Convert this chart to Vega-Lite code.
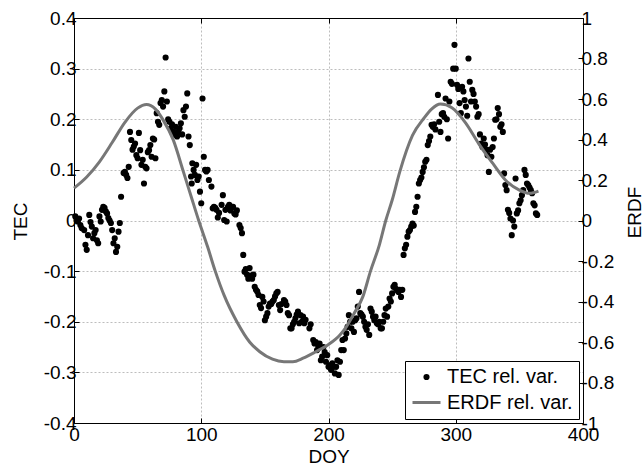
{
  "$schema": "https://vega.github.io/schema/vega-lite/v6.json",
  "width": 509,
  "height": 405,
  "autosize": "none",
  "padding": {"left": 74, "top": 18, "right": 61, "bottom": 45},
  "background": "white",
  "config": {
    "view": {"stroke": "black", "strokeWidth": 1},
    "font": "Liberation Sans",
    "axis": {
      "labelFont": "Liberation Sans", "labelFontSize": 19, "labelColor": "black",
      "titleFont": "Liberation Sans", "titleFontSize": 19, "titleFontWeight": "normal", "titleColor": "black",
      "domainColor": "black", "tickColor": "black", "tickSize": -5, "labelPadding": 3,
      "gridColor": "#bdbdbd", "gridDash": [2, 2], "gridWidth": 1,
      "labelOverlap": false, "labelFlush": false
    },
    "legend": {
      "orient": "bottom-right", "offset": 4, "strokeColor": "black", "fillColor": "white", "padding": 6,
      "labelFont": "Liberation Sans", "labelFontSize": 20, "labelColor": "black",
      "symbolStrokeWidth": 3, "symbolOpacity": 1, "labelOffset": 5, "rowPadding": 0
    }
  },
  "datasets": {
    "tec": [
      {"d":1,"t":0.008},{"d":2,"t":0.0},{"d":3,"t":-0.002},{"d":4,"t":0.004},{"d":5,"t":-0.009},{"d":6,"t":-0.015},{"d":8,"t":-0.019},{"d":9,"t":-0.048},{"d":10,"t":-0.058},{"d":11,"t":-0.029},{"d":12,"t":0.011},{"d":13,"t":-0.003},{"d":14,"t":-0.012},{"d":15,"t":-0.035},{"d":16,"t":-0.025},{"d":17,"t":-0.019},{"d":18,"t":-0.039},{"d":19,"t":-0.045},{"d":20,"t":0.008},{"d":21,"t":-0.002},{"d":22,"t":0.021},{"d":23,"t":0.027},{"d":24,"t":0.025},{"d":25,"t":0.018},{"d":26,"t":0.014},{"d":27,"t":0.005},{"d":28,"t":0.0},{"d":29,"t":-0.005},{"d":30,"t":-0.019},{"d":31,"t":-0.045},{"d":32,"t":-0.035},{"d":33,"t":-0.062},{"d":34,"t":-0.052},{"d":35,"t":-0.022},{"d":36,"t":-0.005},{"d":37,"t":0.047},{"d":39,"t":0.094},{"d":40,"t":0.096},{"d":41,"t":0.09},
      {"d":42,"t":0.084},{"d":43,"t":0.106},{"d":44,"t":0.175},{"d":45,"t":0.159},{"d":46,"t":0.14},{"d":47,"t":0.146},{"d":48,"t":0.152},{"d":49,"t":0.129},{"d":50,"t":0.123},{"d":51,"t":0.173},{"d":52,"t":0.139},{"d":53,"t":0.11},{"d":54,"t":0.12},{"d":55,"t":0.073},{"d":56,"t":0.106},{"d":57,"t":0.103},{"d":58,"t":0.135},{"d":59,"t":0.139},{"d":60,"t":0.149},{"d":61,"t":0.126},{"d":62,"t":0.162},{"d":63,"t":0.16},{"d":64,"t":0.123},{"d":65,"t":0.212},{"d":66,"t":0.195},{"d":67,"t":0.189},{"d":68,"t":0.232},{"d":69,"t":0.238},{"d":70,"t":0.225},{"d":71,"t":0.255},{"d":72,"t":0.322},{"d":73,"t":0.235},{"d":74,"t":0.2},{"d":75,"t":0.195},{"d":76,"t":0.182},{"d":77,"t":0.19},{"d":78,"t":0.175},{"d":79,"t":0.17},{"d":80,"t":0.185},{"d":81,"t":0.166},{"d":82,"t":0.175},{"d":83,"t":0.182},{"d":84,"t":0.192},{"d":85,"t":0.17},{"d":86,"t":0.218},{"d":87,"t":0.205},{"d":88,"t":0.225},{"d":89,"t":0.251},{"d":90,"t":0.166},{"d":91,"t":0.149},{"d":92,"t":0.087},{"d":92.5,"t":0.073},{"d":93,"t":0.113},{"d":94,"t":0.1},{"d":95,"t":0.09},{"d":96,"t":0.11},{"d":97,"t":0.08},{"d":98,"t":0.087},{"d":99,"t":0.057},{"d":100,"t":0.034},{"d":101,"t":0.241},
      {"d":102,"t":0.126},{"d":103,"t":0.1},{"d":104,"t":0.097},{"d":105,"t":0.1},{"d":106,"t":0.08},{"d":108,"t":0.067},{"d":109,"t":0.024},{"d":110,"t":0.027},{"d":111,"t":0.025},{"d":112,"t":0.021},{"d":113,"t":0.006},{"d":114,"t":0.015},{"d":116,"t":0.031},{"d":117,"t":0.05},{"d":118,"t":0.001},{"d":119,"t":0.021},{"d":120,"t":-0.002},{"d":121,"t":0.027},{"d":122,"t":0.031},{"d":123,"t":0.02},{"d":124,"t":0.027},{"d":125,"t":0.027},{"d":126,"t":0.014},{"d":127,"t":0.012},{"d":128,"t":0.02},{"d":130,"t":-0.009},{"d":131,"t":-0.015},{"d":132,"t":-0.025},{"d":133,"t":-0.068},{"d":134,"t":-0.101},{"d":135,"t":-0.096},{"d":136,"t":-0.107},{"d":137,"t":-0.115},{"d":138,"t":-0.094},{"d":139,"t":-0.109},{"d":140,"t":-0.115},{"d":141,"t":-0.107},{"d":142,"t":-0.131},
      {"d":143,"t":-0.137},{"d":144,"t":-0.14},{"d":145,"t":-0.147},{"d":146,"t":-0.167},{"d":147,"t":-0.173},{"d":148,"t":-0.151},{"d":149,"t":-0.16},{"d":150,"t":-0.197},{"d":151,"t":-0.19},{"d":152,"t":-0.183},{"d":153,"t":-0.17},{"d":154,"t":-0.164},{"d":155,"t":-0.165},{"d":156,"t":-0.16},{"d":157,"t":-0.157},{"d":158,"t":-0.15},{"d":159,"t":-0.144},{"d":160,"t":-0.141},{"d":161,"t":-0.167},{"d":162,"t":-0.177},{"d":163,"t":-0.165},{"d":165,"t":-0.157},{"d":166,"t":-0.16},{"d":167,"t":-0.167},{"d":168,"t":-0.183},{"d":169,"t":-0.187},{"d":170,"t":-0.213},{"d":171,"t":-0.213},{"d":172,"t":-0.205},{"d":173,"t":-0.2},{"d":174,"t":-0.193},{"d":175,"t":-0.186},{"d":176,"t":-0.18},{"d":177,"t":-0.203},{"d":178,"t":-0.187},{"d":179,"t":-0.2},{"d":180,"t":-0.19},{"d":181,"t":-0.203},{"d":182,"t":-0.196},{"d":185,"t":-0.213},{"d":186,"t":-0.205},{"d":188,"t":-0.236},{"d":189,"t":-0.243},{"d":190,"t":-0.24},{"d":191,"t":-0.256},{"d":192,"t":-0.248},{"d":193,"t":-0.243},{"d":194,"t":-0.276},{"d":195,"t":-0.269},{"d":196,"t":-0.25},{"d":197,"t":-0.26},{"d":198,"t":-0.279},{"d":199,"t":-0.266},{"d":200,"t":-0.289},{"d":201,"t":-0.286},{"d":202,"t":-0.295},{"d":203,"t":-0.282},{"d":204,"t":-0.289},{"d":205,"t":-0.302},{"d":206,"t":-0.289},{"d":207,"t":-0.276},{"d":208,"t":-0.305},{"d":209,"t":-0.279},
      {"d":210,"t":-0.256},{"d":211,"t":-0.236},{"d":212,"t":-0.256},{"d":213,"t":-0.233},{"d":214,"t":-0.223},{"d":215,"t":-0.21},{"d":216,"t":-0.187},{"d":217,"t":-0.2},{"d":218,"t":-0.213},{"d":219,"t":-0.2},{"d":220,"t":-0.22},{"d":221,"t":-0.197},{"d":222,"t":-0.193},{"d":223,"t":-0.17},{"d":224,"t":-0.141},{"d":225,"t":-0.183},{"d":226,"t":-0.186},{"d":227,"t":-0.19},{"d":228,"t":-0.2},{"d":229,"t":-0.21},{"d":230,"t":-0.216},{"d":231,"t":-0.205},{"d":232,"t":-0.226},{"d":233,"t":-0.174},{"d":234,"t":-0.18},{"d":235,"t":-0.19},{"d":236,"t":-0.197},{"d":237,"t":-0.19},{"d":238,"t":-0.203},{"d":239,"t":-0.205},{"d":240,"t":-0.2},{"d":241,"t":-0.213},{"d":242,"t":-0.213},{"d":243,"t":-0.2},{"d":244,"t":-0.187},{"d":245,"t":-0.174},{"d":246,"t":-0.19},{"d":247,"t":-0.17},{"d":248,"t":-0.154},{"d":249,"t":-0.16},{"d":250,"t":-0.144},{"d":251,"t":-0.131},{"d":252,"t":-0.127},{"d":253,"t":-0.135},{"d":254,"t":-0.138},{"d":255,"t":-0.141},{"d":256,"t":-0.137},{"d":257,"t":-0.151},{"d":258,"t":-0.137},
      {"d":259,"t":-0.068},{"d":260,"t":-0.055},{"d":261,"t":-0.048},{"d":262,"t":-0.032},{"d":263,"t":-0.022},{"d":264,"t":-0.019},{"d":265,"t":-0.012},{"d":266,"t":-0.006},{"d":267,"t":-0.01},{"d":268,"t":0.017},{"d":269,"t":0.027},{"d":270,"t":0.047},{"d":271,"t":0.073},{"d":272,"t":0.08},{"d":273,"t":0.085},{"d":274,"t":0.096},{"d":275,"t":0.105},{"d":276,"t":0.116},{"d":277,"t":0.12},{"d":278,"t":0.149},{"d":279,"t":0.157},{"d":280,"t":0.166},{"d":281,"t":0.189},{"d":282,"t":0.185},{"d":283,"t":0.19},{"d":284,"t":0.18},{"d":286,"t":0.248},{"d":287,"t":0.195},{"d":288,"t":0.175},{"d":289,"t":0.21},{"d":290,"t":0.212},{"d":291,"t":0.205},{"d":292,"t":0.241},{"d":293,"t":0.2},{"d":294,"t":0.162},{"d":295,"t":0.235},{"d":296,"t":0.274},{"d":297,"t":0.27},{"d":298,"t":0.3},{"d":299,"t":0.347},{"d":300,"t":0.3},
      {"d":301,"t":0.268},{"d":302,"t":0.26},{"d":303,"t":0.232},{"d":304,"t":0.212},{"d":305,"t":0.264},{"d":306,"t":0.255},{"d":307,"t":0.238},{"d":308,"t":0.225},{"d":309,"t":0.207},{"d":310,"t":0.32},{"d":311,"t":0.274},{"d":312,"t":0.235},{"d":313,"t":0.258},{"d":314,"t":0.25},{"d":315,"t":0.235},{"d":316,"t":0.225},{"d":317,"t":0.205},{"d":318,"t":0.21},{"d":319,"t":0.17},{"d":320,"t":0.152},{"d":321,"t":0.145},{"d":322,"t":0.162},{"d":323,"t":0.15},{"d":324,"t":0.14},{"d":325,"t":0.129},{"d":326,"t":0.096},{"d":327,"t":0.14},{"d":328,"t":0.126},{"d":329,"t":0.145},{"d":330,"t":0.162},{"d":331,"t":0.199},{"d":332,"t":0.2},{"d":333,"t":0.222},{"d":334,"t":0.21},{"d":335,"t":0.185},{"d":336,"t":0.19},{"d":337,"t":0.175},{"d":338,"t":0.093},{"d":339,"t":0.07},{"d":340,"t":0.06},{"d":341,"t":0.021},{"d":342,"t":0.015},{"d":343,"t":0.004},{"d":344,"t":-0.029},{"d":345,"t":0.0},{"d":346,"t":-0.012},{"d":347,"t":0.083},{"d":348,"t":0.014},{"d":349,"t":0.02},{"d":350,"t":0.034},{"d":351,"t":0.04},{"d":352,"t":0.05},{"d":353,"t":0.06},{"d":354,"t":0.1},{"d":355,"t":0.09},{"d":356,"t":0.073},{"d":357,"t":0.07},{"d":358,"t":0.065},{"d":359,"t":0.06},{"d":360,"t":0.054},{"d":361,"t":0.034},{"d":362,"t":0.03},{"d":363,"t":0.014},{"d":364,"t":0.011}
    ],
    "erdf": [
      {"d":0,"e":0.16},{"d":10,"e":0.215},{"d":20,"e":0.29},{"d":30,"e":0.385},{"d":40,"e":0.485},{"d":50,"e":0.555},{"d":57,"e":0.573},{"d":64,"e":0.55},{"d":70,"e":0.497},{"d":78,"e":0.398},{"d":86,"e":0.24},{"d":92,"e":0.12},{"d":98,"e":0.0},{"d":105,"e":-0.13},{"d":111,"e":-0.25},{"d":118,"e":-0.37},{"d":128,"e":-0.5},{"d":138,"e":-0.6},{"d":146,"e":-0.648},{"d":156,"e":-0.685},{"d":165,"e":-0.697},{"d":172,"e":-0.697},{"d":180,"e":-0.68},{"d":190,"e":-0.648},{"d":200,"e":-0.612},{"d":209,"e":-0.565},{"d":214,"e":-0.525},{"d":220,"e":-0.46},{"d":227,"e":-0.376},{"d":233,"e":-0.25},{"d":240,"e":-0.12},{"d":245,"e":0.0},{"d":250,"e":0.1},{"d":256,"e":0.24},{"d":266,"e":0.42},{"d":275,"e":0.505},{"d":281,"e":0.55},{"d":288,"e":0.575},{"d":297,"e":0.557},{"d":308,"e":0.48},{"d":318,"e":0.38},{"d":329,"e":0.283},{"d":339,"e":0.2},{"d":350,"e":0.15},{"d":358,"e":0.134},{"d":365,"e":0.145}
    ]
  },
  "layer": [
    {
      "data": {"name": "tec"},
      "mark": {"type": "point", "filled": false, "fill": "black", "strokeWidth": 3, "opacity": 1},
      "encoding": {
        "x": {
          "field": "d", "type": "quantitative",
          "scale": {"domain": [0, 400], "nice": false, "zero": false},
          "axis": {"orient": "bottom", "title": "DOY", "values": [0, 100, 200, 300, 400], "grid": true,
                   "labelExpr": "'' + datum.value", "labelPadding": 7,
                   "titleX": 254.5, "titleY": 33, "titleBaseline": "middle", "titleAlign": "center", "titleAnchor": null}
        },
        "y": {
          "field": "t", "type": "quantitative",
          "scale": {"domain": [-0.4, 0.4], "nice": false, "zero": false},
          "axis": {"orient": "left", "title": "TEC", "values": [-0.4, -0.3, -0.2, -0.1, 0, 0.1, 0.2, 0.3, 0.4], "grid": true,
                   "labelExpr": "'' + datum.value",
                   "titleX": -54, "titleY": 203, "titleAngle": -90, "titleBaseline": "middle", "titleAlign": "center", "titleAnchor": null}
        },
        "color": {
          "datum": "TEC rel. var.", "type": "nominal",
          "scale": {"domain": ["TEC rel. var.", "ERDF rel. var."], "range": ["black", "#777777"]},
          "legend": {"title": null}
        },
        "shape": {
          "datum": "TEC rel. var.", "type": "nominal",
          "scale": {"domain": ["TEC rel. var.", "ERDF rel. var."], "range": ["circle", "stroke"]},
          "legend": {"title": null}
        },
        "size": {
          "datum": "TEC rel. var.", "type": "nominal",
          "scale": {"type": "ordinal", "domain": ["TEC rel. var.", "ERDF rel. var."], "range": [10, 784]},
          "legend": {"title": null}
        }
      }
    },
    {
      "data": {"name": "erdf"},
      "mark": {"type": "line", "strokeWidth": 3, "interpolate": "monotone", "color": "#777777"},
      "encoding": {
        "x": {
          "field": "d", "type": "quantitative",
          "scale": {"domain": [0, 400], "nice": false, "zero": false},
          "axis": {"orient": "top", "title": null, "labels": false, "values": [0, 100, 200, 300, 400], "grid": false}
        },
        "y": {
          "field": "e", "type": "quantitative",
          "scale": {"domain": [-1, 1], "nice": false, "zero": false},
          "axis": {"orient": "right", "title": "ERDF", "values": [-1, -0.8, -0.6, -0.4, -0.2, 0, 0.2, 0.4, 0.6, 0.8, 1], "grid": false,
                   "labelExpr": "'' + datum.value",
                   "titleX": 51, "titleY": 194, "titleAngle": -90, "titleBaseline": "middle", "titleAlign": "center", "titleAnchor": null}
        }
      }
    }
  ],
  "resolve": {"scale": {"y": "independent"}, "axis": {"x": "independent", "y": "independent"}}
}
